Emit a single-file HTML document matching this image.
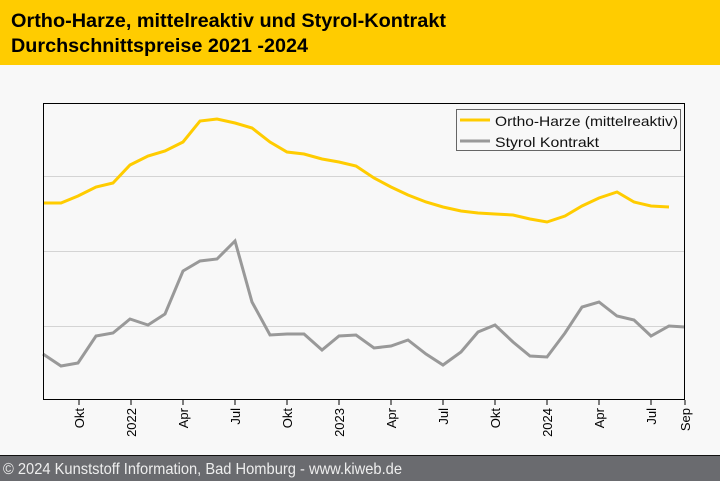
<!DOCTYPE html>
<html><head><meta charset="utf-8"><style>
body{margin:0;width:720px;height:480px;overflow:hidden;background:#f8f8f8;font-family:"Liberation Sans",sans-serif}
.hdr{position:absolute;left:0;top:0;width:720px;height:65px;background:#ffcc00}
.ftr{position:absolute;left:0;top:455px;width:720px;height:25px;background:#6a6b6f;border-top:1px solid #111}
</style></head><body>
<div class="hdr"></div>
<div class="ftr"></div>
<svg width="720" height="480" style="position:absolute;left:0;top:0">
<text x="11" y="27" font-size="19" font-weight="bold" fill="#000" textLength="435" lengthAdjust="spacingAndGlyphs">Ortho-Harze, mittelreaktiv und Styrol-Kontrakt</text>
<text x="11" y="52" font-size="19" font-weight="bold" fill="#000" textLength="297" lengthAdjust="spacingAndGlyphs">Durchschnittspreise 2021 -2024</text>
<text x="3" y="474" font-size="16" fill="#eee" textLength="399" lengthAdjust="spacingAndGlyphs">© 2024 Kunststoff Information, Bad Homburg - www.kiweb.de</text>
<g stroke="#d4d4d4" stroke-width="1"><line x1="43" y1="176.5" x2="685" y2="176.5"/><line x1="43" y1="251.5" x2="685" y2="251.5"/><line x1="43" y1="326.5" x2="685" y2="326.5"/></g>
<polyline fill="none" stroke="#ffcc00" stroke-width="3" points="43,203 61,203 78,196 96,187 113,183 130,165 148,156 165,151 183,142 200,121 217,119 235,123 252,128 270,142 287,152 304,154 322,159 339,162 356,166 374,178 391,187 408,195 426,202 443,207 461,211 478,213 495,214 513,215 530,219 547,222 565,216 582,206 599,198 617,192 634,202 651,206 669,207"/>
<polyline fill="none" stroke="#999" stroke-width="3" points="43,354 61,366 78,363 96,336 113,333 130,319 148,325 165,314 183,271 200,261 217,259 235,241 252,302 270,335 287,334 304,334 322,350 339,336 356,335 374,348 391,346 408,340 426,354 443,365 461,352 478,332 495,325 513,342 530,356 547,357 565,333 582,307 599,302 617,316 634,320 651,336 669,326 685,327"/>
<rect x="43.5" y="103.5" width="641" height="296" fill="none" stroke="#000" stroke-width="1"/>
<rect x="456.5" y="109.5" width="224" height="41" fill="#f8f8f8" stroke="#666"/>
<line x1="460" y1="120" x2="490" y2="120" stroke="#ffcc00" stroke-width="3"/>
<line x1="460" y1="141" x2="490" y2="141" stroke="#999" stroke-width="3"/>
<text x="495" y="126" font-size="14" fill="#111" textLength="183" lengthAdjust="spacingAndGlyphs">Ortho-Harze (mittelreaktiv)</text>
<text x="495" y="147" font-size="14" fill="#111" textLength="104" lengthAdjust="spacingAndGlyphs">Styrol Kontrakt</text>
<g stroke="#000" stroke-width="1">
<line x1="79" y1="400" x2="79" y2="405"/><line x1="131" y1="400" x2="131" y2="405"/><line x1="183" y1="400" x2="183" y2="405"/><line x1="235" y1="400" x2="235" y2="405"/><line x1="287" y1="400" x2="287" y2="405"/><line x1="339" y1="400" x2="339" y2="405"/><line x1="391" y1="400" x2="391" y2="405"/><line x1="443" y1="400" x2="443" y2="405"/><line x1="495" y1="400" x2="495" y2="405"/><line x1="547" y1="400" x2="547" y2="405"/><line x1="599" y1="400" x2="599" y2="405"/><line x1="651" y1="400" x2="651" y2="405"/><line x1="685" y1="400" x2="685" y2="405"/>
</g>
<g font-size="13" fill="#000" text-anchor="end">
<text transform="translate(84,408) rotate(-90)">Okt</text>
<text transform="translate(136,408) rotate(-90)">2022</text>
<text transform="translate(188,408) rotate(-90)">Apr</text>
<text transform="translate(240,408) rotate(-90)">Jul</text>
<text transform="translate(292,408) rotate(-90)">Okt</text>
<text transform="translate(344,408) rotate(-90)">2023</text>
<text transform="translate(396,408) rotate(-90)">Apr</text>
<text transform="translate(448,408) rotate(-90)">Jul</text>
<text transform="translate(500,408) rotate(-90)">Okt</text>
<text transform="translate(552,408) rotate(-90)">2024</text>
<text transform="translate(604,408) rotate(-90)">Apr</text>
<text transform="translate(656,408) rotate(-90)">Jul</text>
<text transform="translate(690,408) rotate(-90)">Sep</text>
</g>
</svg>
</body></html>
